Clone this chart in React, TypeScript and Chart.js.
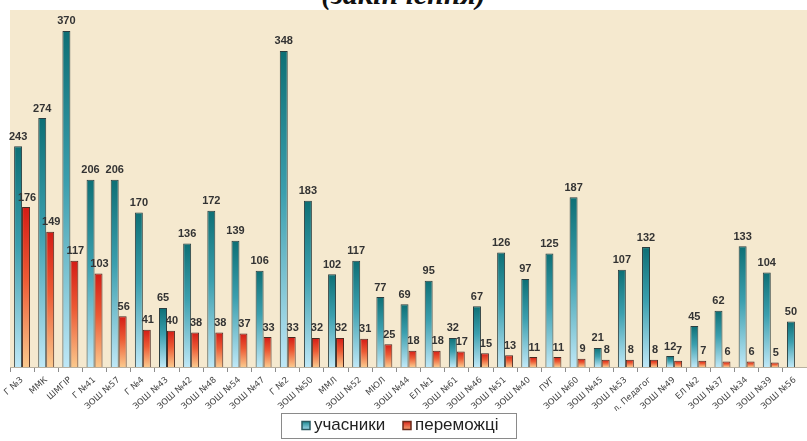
import React, { useEffect, useRef } from "react";
import { Chart, registerables } from "chart.js";

Chart.register(...registerables);

const schools = [
  "Г №3", "ММК", "ШМГІР", "Г №41", "ЗОШ №57", "Г №4", "ЗОШ №43", "ЗОШ №42", "ЗОШ №48",
  "ЗОШ №54", "ЗОШ №47", "Г №2", "ЗОШ №50", "ММЛ", "ЗОШ №52", "МЮЛ", "ЗОШ №44", "ЕЛ №1",
  "ЗОШ №61", "ЗОШ №46", "ЗОШ №51", "ЗОШ №40", "ПУГ", "ЗОШ №60", "ЗОШ №45", "ЗОШ №53",
  "л. Педагог", "ЗОШ №49", "ЕЛ №2", "ЗОШ №37", "ЗОШ №34", "ЗОШ №39", "ЗОШ №56",
];

const participants = [
  243, 274, 370, 206, 206, 170, 65, 136, 172, 139, 106, 348, 183, 102, 117, 77, 69, 95,
  32, 67, 126, 97, 125, 187, 21, 107, 132, 12, 45, 62, 133, 104, 50,
];

const winners: (number | null)[] = [
  176, 149, 117, 103, 56, 41, 40, 38, 38, 37, 33, 33, 32, 32, 31, 25, 18, 18,
  17, 15, 13, 11, 11, 9, 8, 8, 8, 7, 7, 6, 6, 5, null,
];

const seriesNames = ["учасники", "переможці"];

const blueStops = ["#0d6f75", "#3b9fae", "#bfe8f7"];
const redStops = ["#d41c16", "#ec5a34", "#fbc88c"];

function barGradient(stops: string[]) {
  return (ctx: any) => {
    const chart = ctx.chart;
    const y = chart.scales && chart.scales.y;
    if (!chart.chartArea || !y || typeof ctx.raw !== "number") return stops[1];
    const top = y.getPixelForValue(ctx.raw);
    const base = y.getPixelForValue(0);
    const g = chart.ctx.createLinearGradient(0, top, 0, base);
    g.addColorStop(0, stops[0]);
    g.addColorStop(0.45, stops[1]);
    g.addColorStop(1, stops[2]);
    return g;
  };
}

const panelPlugin = {
  id: "panel",
  beforeDraw(chart: any) {
    const { ctx, chartArea } = chart;
    ctx.save();
    ctx.fillStyle = "#f5e9cf";
    ctx.fillRect(chartArea.left, chartArea.top, chart.width - chartArea.left, chartArea.bottom - chartArea.top);
    ctx.restore();
  },
};

const valueLabelPlugin = {
  id: "valueLabels",
  afterDatasetsDraw(chart: any) {
    const { ctx } = chart;
    ctx.save();
    ctx.font = "bold 11px 'Liberation Sans', Arial, sans-serif";
    ctx.fillStyle = "#333";
    ctx.textAlign = "center";
    ctx.textBaseline = "bottom";
    chart.data.datasets.forEach((ds: any, di: number) => {
      const meta = chart.getDatasetMeta(di);
      meta.data.forEach((bar: any, i: number) => {
        const v = ds.data[i];
        if (v == null) return;
        ctx.fillText(String(v), bar.x + (di === 1 ? 1 : 0), bar.y - 4);
      });
    });
    ctx.restore();
  },
};

// Framed legend drawn under the axis labels, in the padding reserved below.
const legendBoxPlugin = {
  id: "legendBox",
  afterDraw(chart: any) {
    const { ctx } = chart;
    const top = chart.height - 28;
    ctx.save();
    ctx.strokeStyle = "#8a8a8a";
    ctx.lineWidth = 1;
    ctx.strokeRect(281.5, top + 0.5, 235, 25);
    const cy = top + 12.5;
    const items = [
      { x: 302, fill: ["#1d8a92", "#9fd8ea"], stroke: "#2b5a60", text: seriesNames[0] },
      { x: 403, fill: ["#d9261a", "#f6a070"], stroke: "#6a2a1a", text: seriesNames[1] },
    ];
    ctx.font = "17px 'Liberation Sans', Arial, sans-serif";
    ctx.textBaseline = "middle";
    ctx.textAlign = "left";
    items.forEach((it) => {
      const g = ctx.createLinearGradient(0, cy - 4, 0, cy + 4);
      g.addColorStop(0, it.fill[0]);
      g.addColorStop(1, it.fill[1]);
      ctx.fillStyle = g;
      ctx.fillRect(it.x, cy - 4, 8, 8);
      ctx.strokeStyle = it.stroke;
      ctx.lineWidth = 1.5;
      ctx.strokeRect(it.x, cy - 4, 8, 8);
      ctx.fillStyle = "#222";
      ctx.fillText(it.text, it.x + 12, cy);
    });
    ctx.restore();
  },
};

export default function App() {
  const ref = useRef<HTMLCanvasElement | null>(null);

  useEffect(() => {
    if (!ref.current) return;
    const chart = new Chart(ref.current, {
      type: "bar",
      data: {
        labels: schools,
        datasets: [
          {
            label: seriesNames[0],
            data: participants,
            backgroundColor: barGradient(blueStops) as any,
            borderColor: "#2b3d3f",
            borderWidth: 1,
            categoryPercentage: 0.66,
            barPercentage: 1,
          },
          {
            label: seriesNames[1],
            data: winners,
            backgroundColor: barGradient(redStops) as any,
            borderColor: "#4a2a20",
            borderWidth: 1,
            categoryPercentage: 0.66,
            barPercentage: 1,
          },
        ],
      },
      options: {
        animation: false,
        responsive: false,
        maintainAspectRatio: false,
        layout: { padding: { left: 10, right: 0, top: 0, bottom: 30 } },
        scales: {
          x: {
            afterFit: (scale: any) => {
              scale.height = 44;
            },
            grid: { display: true, drawOnChartArea: false, tickLength: 5, color: "#8c8c8c", offset: true },
            border: { display: true, color: "#b8b0a0" },
            ticks: {
              autoSkip: false,
              minRotation: 42,
              maxRotation: 42,
              padding: 3,
              color: "#444",
              font: { family: "'DejaVu Sans', sans-serif", size: 8.5 },
            },
          },
          y: { display: false, min: 0, max: 393 },
        },
        plugins: {
          tooltip: { enabled: false },
          legend: { display: false },
        },
      },
      plugins: [panelPlugin, valueLabelPlugin, legendBoxPlugin],
    });
    return () => chart.destroy();
  }, []);

  return (
    <div style={{ position: "fixed", left: 0, top: 0, width: 807, height: 441, background: "#fff", overflow: "hidden" }}>
      <div
        style={{
          position: "absolute",
          left: 0,
          width: 807,
          top: -21,
          textAlign: "center",
          fontFamily: "'Liberation Serif', 'DejaVu Serif', serif",
          fontStyle: "italic",
          fontWeight: "bold",
          fontSize: 30,
          lineHeight: "30px",
          color: "#111",
        }}
      >
        (закінчення)
      </div>
      <canvas ref={ref} width={807} height={431} style={{ position: "absolute", left: 0, top: 10 }} />
    </div>
  );
}
